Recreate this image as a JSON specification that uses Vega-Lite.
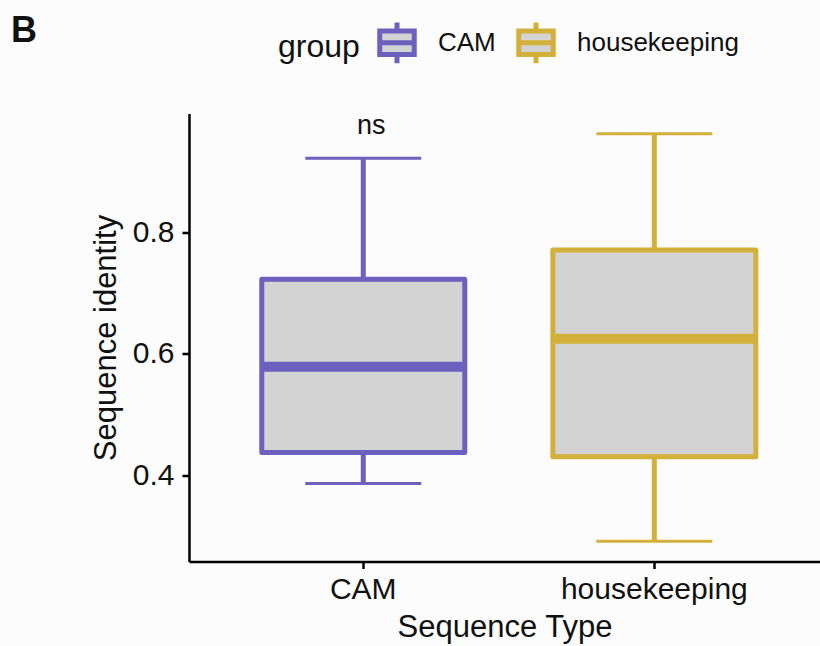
{
  "$schema": "https://vega.github.io/schema/vega-lite/v6.json",
  "width": 631,
  "height": 448,
  "autosize": "none",
  "padding": {"left": 189, "top": 113.5, "right": 0, "bottom": 84.5},
  "background": "#fcfcfc",
  "title": {
    "text": "B",
    "anchor": "start",
    "frame": "group",
    "orient": "top",
    "font": "Liberation Sans",
    "fontSize": 36,
    "fontWeight": "bold",
    "color": "#111111",
    "baseline": "alphabetic",
    "offset": 0,
    "dx": -178,
    "dy": 58
  },
  "data": {
    "values": [
      {"type": "CAM", "lower": 0.387, "q1": 0.438, "median": 0.579, "q3": 0.723, "upper": 0.922},
      {"type": "housekeeping", "lower": 0.292, "q1": 0.431, "median": 0.625, "q3": 0.771, "upper": 0.962}
    ]
  },
  "config": {
    "view": {"stroke": null},
    "font": "Liberation Sans",
    "axis": {
      "grid": false,
      "domainColor": "#000000",
      "domainWidth": 2.5,
      "tickColor": "#000000",
      "tickWidth": 2.5,
      "tickSize": 7,
      "labelColor": "#111111",
      "titleColor": "#111111",
      "labelFont": "Liberation Sans",
      "titleFont": "Liberation Sans",
      "labelFontSize": 30,
      "titleFontSize": 31,
      "titleFontWeight": "normal",
      "labelLimit": 0
    }
  },
  "encoding": {
    "x": {
      "field": "type",
      "type": "nominal",
      "sort": ["CAM", "housekeeping"],
      "scale": {"paddingInner": 0, "paddingOuter": 0.084, "align": 0.588},
      "axis": {"title": "Sequence Type", "labelAngle": 0, "labelPadding": 6, "titlePadding": 8}
    }
  },
  "layer": [
    {
      "mark": {"type": "rule", "strokeWidth": 5},
      "encoding": {
        "y": {
          "field": "lower",
          "type": "quantitative",
          "scale": {"domain": [0.2585, 0.9955], "nice": false, "zero": false},
          "axis": {"title": "Sequence identity", "values": [0.4, 0.6, 0.8], "format": ".1f", "labelPadding": 8, "titlePadding": 10}
        },
        "y2": {"field": "upper"},
        "color": {
          "field": "type",
          "type": "nominal",
          "scale": {"range": ["#6E60BE", "#D3B03A"]},
          "legend": null
        }
      }
    },
    {
      "mark": {"type": "bar", "size": 203, "fill": "#D3D3D3", "strokeWidth": 5, "strokeJoin": "round"},
      "encoding": {
        "y": {"field": "q1", "type": "quantitative"},
        "y2": {"field": "q3"},
        "stroke": {
          "field": "type",
          "type": "nominal",
          "scale": {"domain": ["CAM", "housekeeping"], "range": ["#6E60BE", "#D3B03A"]},
          "legend": {
            "title": "group",
            "orient": "none",
            "legendX": 89,
            "legendY": -94,
            "direction": "horizontal",
            "titleOrient": "left",
            "titleAnchor": "middle",
            "titleBaseline": "middle",
            "titleFontSize": 32,
            "titleFontWeight": "normal",
            "titleColor": "#111111",
            "titlePadding": 14,
            "labelFontSize": 26,
            "labelLimit": 0,
            "labelColor": "#111111",
            "labelOffset": 18,
            "columnPadding": 12,
            "padding": 0,
            "symbolType": "M-0.85,-0.58H0.85V0.58H-0.85Z M0,-0.58V-1 M0,0.58V1 M-0.85,0H0.85",
            "symbolSize": 1650,
            "symbolStrokeWidth": 5
          }
        }
      }
    },
    {
      "mark": {"type": "tick", "size": 203, "thickness": 10, "opacity": 1},
      "encoding": {
        "y": {"field": "median", "type": "quantitative"},
        "color": {"field": "type", "type": "nominal", "legend": null}
      }
    },
    {
      "mark": {"type": "tick", "size": 116, "thickness": 3, "opacity": 1},
      "encoding": {
        "y": {"field": "lower", "type": "quantitative"},
        "color": {"field": "type", "type": "nominal", "legend": null}
      }
    },
    {
      "mark": {"type": "tick", "size": 116, "thickness": 3, "opacity": 1},
      "encoding": {
        "y": {"field": "upper", "type": "quantitative"},
        "color": {"field": "type", "type": "nominal", "legend": null}
      }
    },
    {
      "data": {"values": [{"type": "CAM", "label": "ns"}]},
      "mark": {"type": "text", "fontSize": 27, "baseline": "alphabetic", "dx": 8, "color": "#111111"},
      "encoding": {
        "y": {"datum": 0.961, "type": "quantitative"},
        "text": {"field": "label"}
      }
    }
  ]
}
